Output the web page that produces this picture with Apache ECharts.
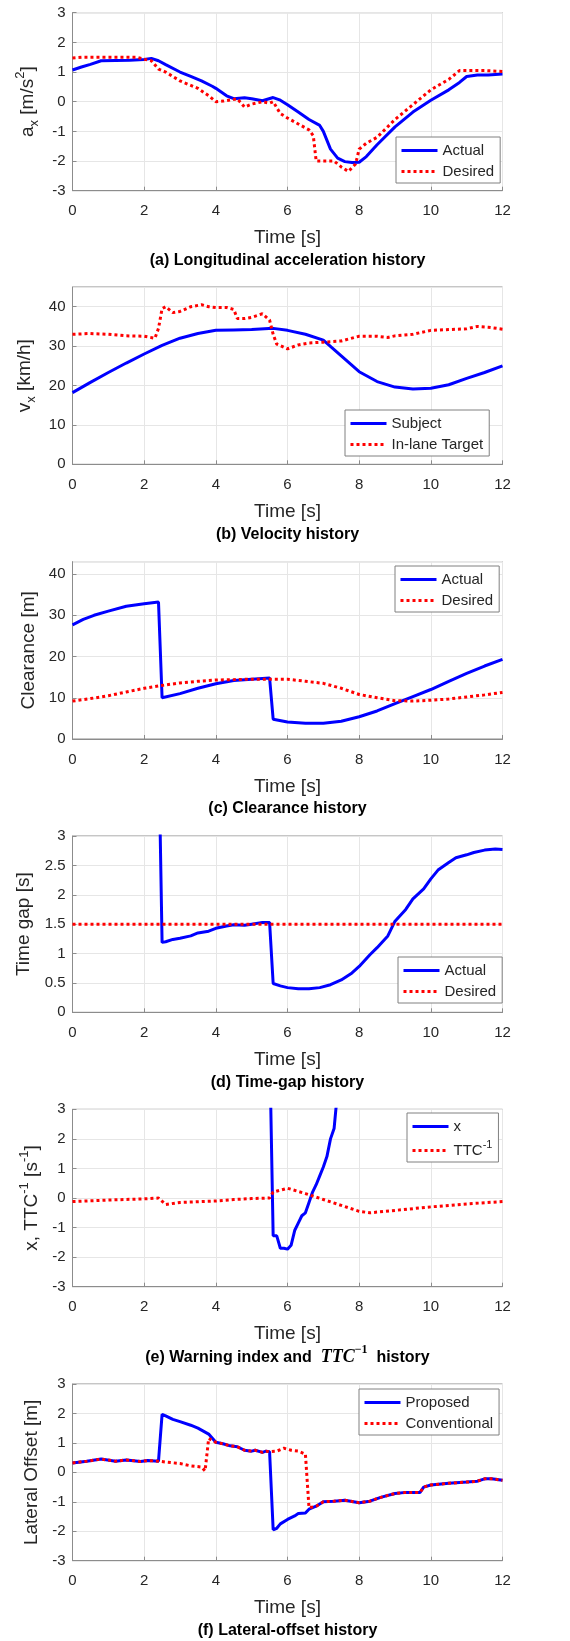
<!DOCTYPE html>
<html>
<head>
<meta charset="utf-8">
<script src="https://cdn.jsdelivr.net/npm/echarts@6/dist/echarts.min.js"></script>
<style>
  html, body { margin: 0; padding: 0; background: #fff; }
  #chart { width: 570px; height: 1641px; }
</style>
</head>
<body>
<div id="chart"></div>
<script>
// values, [time s, value]
const accelActual = [[0,1.07],[0.25,1.17],[0.5,1.26],[0.8,1.38],[1.2,1.39],[1.6,1.4],[2,1.42],[2.2,1.46],[2.4,1.38],[2.6,1.25],[3,1.0],[3.3,0.85],[3.6,0.7],[3.9,0.52],[4,0.45],[4.3,0.2],[4.5,0.1],[4.8,0.13],[5,0.1],[5.3,0.03],[5.6,0.14],[5.8,0.05],[6,-0.1],[6.3,-0.35],[6.6,-0.6],[6.9,-0.8],[7.0,-1.0],[7.2,-1.6],[7.4,-1.9],[7.6,-2.02],[7.8,-2.05],[8,-2.04],[8.2,-1.85],[8.5,-1.45],[9,-0.85],[9.5,-0.35],[10,0.05],[10.5,0.4],[10.8,0.65],[11,0.85],[11.3,0.9],[11.6,0.9],[12,0.93]];
const accelDesired = [[0,1.47],[0.3,1.5],[1.8,1.5],[2,1.43],[2.2,1.38],[2.4,1.1],[2.6,1.0],[3,0.7],[3.5,0.45],[3.8,0.2],[4,0.0],[4.2,0.02],[4.6,0.1],[4.8,-0.18],[5,-0.08],[5.3,0.0],[5.5,-0.05],[5.6,0.0],[5.8,-0.4],[6,-0.55],[6.3,-0.75],[6.6,-0.95],[6.72,-1.15],[6.8,-2.0],[7.3,-2.0],[7.5,-2.2],[7.7,-2.35],[7.9,-2.1],[8,-1.6],[8.2,-1.4],[8.5,-1.2],[9,-0.6],[9.5,-0.1],[10,0.4],[10.5,0.75],[10.8,1.05],[11.5,1.05],[12,1.02]];

const velSubject = [[0,18.2],[0.5,20.8],[1,23.3],[1.5,25.7],[2,28.0],[2.5,30.2],[3,32.0],[3.5,33.2],[4,34.0],[4.5,34.1],[5,34.2],[5.6,34.5],[6,34.0],[6.5,33.0],[7,31.5],[7.5,27.5],[8,23.5],[8.5,21.0],[9,19.6],[9.5,19.1],[10,19.3],[10.5,20.2],[11,21.8],[11.5,23.3],[12,25.0]];
const velTarget = [[0,33.0],[0.5,33.2],[1,33.0],[1.5,32.6],[2,32.5],[2.3,32.0],[2.4,34.5],[2.5,39.5],[2.6,40.0],[2.8,38.5],[3,38.8],[3.3,40.0],[3.6,40.5],[3.8,40.0],[4,39.8],[4.3,39.8],[4.5,39.3],[4.6,37.0],[4.8,37.0],[5,37.3],[5.3,38.2],[5.5,36.6],[5.6,33.0],[5.7,30.5],[6,29.3],[6.3,30.3],[6.6,30.8],[7,31.0],[7.5,31.3],[8,32.5],[8.5,32.5],[8.8,32.2],[9,32.6],[9.5,33.0],[10,34.0],[10.5,34.2],[11,34.4],[11.3,35.0],[11.6,34.8],[12,34.3]];

const clrActual = [[0,27.7],[0.3,29.0],[0.6,30.0],[1,31.0],[1.5,32.2],[2,32.8],[2.4,33.2],[2.5,10.0],[3,11.0],[3.5,12.3],[4,13.4],[4.5,14.2],[5,14.5],[5.5,14.8],[5.6,4.8],[6,4.1],[6.5,3.8],[7,3.8],[7.5,4.3],[8,5.4],[8.5,6.8],[9,8.6],[9.5,10.3],[10,12.0],[10.5,14.0],[11,15.9],[11.5,17.7],[12,19.3]];
const clrDesired = [[0,9.2],[0.5,9.8],[1,10.5],[1.5,11.4],[2,12.3],[2.5,13.0],[3,13.6],[3.5,14.0],[4,14.3],[4.5,14.4],[5,14.5],[6,14.5],[6.5,14.0],[7,13.5],[7.5,12.3],[8,10.8],[8.5,10.0],[9,9.3],[9.5,9.2],[10,9.4],[10.5,9.7],[11,10.2],[11.5,10.7],[12,11.3]];

const gapActual = [[2.44,3.3],[2.5,1.19],[2.6,1.2],[2.8,1.24],[3,1.26],[3.3,1.3],[3.5,1.35],[3.8,1.38],[4,1.43],[4.3,1.47],[4.5,1.49],[4.8,1.48],[5,1.5],[5.3,1.53],[5.5,1.53],[5.6,0.49],[5.8,0.45],[6,0.42],[6.3,0.4],[6.6,0.4],[6.9,0.42],[7.2,0.47],[7.5,0.55],[7.8,0.67],[8,0.78],[8.3,0.98],[8.5,1.1],[8.8,1.3],[9,1.55],[9.3,1.75],[9.5,1.93],[9.8,2.1],[10,2.27],[10.2,2.42],[10.5,2.55],[10.7,2.63],[11,2.68],[11.2,2.72],[11.5,2.76],[11.8,2.78],[12,2.77]];
const gapDesired = [[0,1.5],[12,1.5]];

const warnX = [[5.53,3.3],[5.6,-1.28],[5.7,-1.28],[5.8,-1.7],[5.9,-1.7],[6,-1.73],[6.1,-1.6],[6.2,-1.1],[6.3,-0.85],[6.4,-0.6],[6.5,-0.5],[6.6,-0.15],[6.7,0.2],[6.8,0.45],[6.9,0.75],[7.0,1.05],[7.1,1.4],[7.2,2.0],[7.3,2.35],[7.35,3.0],[7.4,3.5]];
const warnTTC = [[0,-0.12],[1,-0.07],[2,-0.03],[2.4,0.0],[2.6,-0.22],[3,-0.15],[4,-0.1],[4.5,-0.05],[5,-0.02],[5.5,0.0],[5.6,0.2],[6,0.33],[6.5,0.15],[7,-0.05],[7.5,-0.25],[8,-0.45],[8.3,-0.5],[9,-0.42],[10,-0.3],[11,-0.2],[12,-0.12]];

const latProposed = [[0,0.32],[0.4,0.38],[0.8,0.45],[1.2,0.38],[1.5,0.42],[1.9,0.37],[2.1,0.4],[2.4,0.38],[2.5,1.97],[2.6,1.92],[2.8,1.8],[3,1.72],[3.3,1.6],[3.5,1.5],[3.8,1.3],[4,1.02],[4.2,0.97],[4.4,0.9],[4.6,0.87],[4.8,0.75],[5.0,0.72],[5.1,0.75],[5.3,0.68],[5.4,0.72],[5.5,0.7],[5.6,-1.95],[5.7,-1.9],[5.8,-1.75],[6,-1.6],[6.2,-1.48],[6.3,-1.4],[6.5,-1.38],[6.6,-1.25],[6.8,-1.15],[7,-1.0],[7.3,-0.98],[7.6,-0.95],[8,-1.03],[8.3,-0.98],[8.6,-0.85],[9,-0.72],[9.3,-0.68],[9.7,-0.68],[9.8,-0.5],[10,-0.43],[10.5,-0.37],[11,-0.33],[11.3,-0.3],[11.5,-0.22],[11.7,-0.22],[12,-0.27]];
const latConventional = [[0,0.32],[0.4,0.38],[0.8,0.45],[1.2,0.38],[1.5,0.42],[1.9,0.37],[2.1,0.4],[2.4,0.38],[2.6,0.35],[3,0.3],[3.3,0.22],[3.6,0.18],[3.7,0.05],[3.8,1.15],[4,1.02],[4.2,0.97],[4.4,0.9],[4.6,0.87],[4.8,0.75],[5.0,0.72],[5.1,0.75],[5.3,0.68],[5.4,0.72],[5.5,0.7],[5.7,0.72],[5.9,0.82],[6.1,0.75],[6.3,0.72],[6.5,0.62],[6.6,-1.2],[6.8,-1.15],[7,-1.0],[7.3,-0.98],[7.6,-0.95],[8,-1.03],[8.3,-0.98],[8.6,-0.85],[9,-0.72],[9.3,-0.68],[9.7,-0.68],[9.8,-0.5],[10,-0.43],[10.5,-0.37],[11,-0.33],[11.3,-0.3],[11.5,-0.22],[11.7,-0.22],[12,-0.27]];

const xTicks = [0, 12, 2];

var FONT = 'Liberation Sans, Arial, sans-serif';
var TXT = '#262626';
var AX = '#8c8c8c';

// one panel per entry: grid box, y range, legend place, series
var panels = [
  {top: 12.7, h: 178, y: [-3, 3, 1], name: '{n|a}{sb|x}{n| [m/s}{sp|2}{n|]}', gap: 29.5,
   leg: [396, 137], names: ['Actual', 'Desired'], data: [accelActual, accelDesired],
   cap: '(a) Longitudinal acceleration history'},
  {top: 287, h: 177.3, y: [0, 45, 10], name: '{n|v}{sb|x}{n| [km/h]}', gap: 36.5,
   leg: [345, 410], names: ['Subject', 'In-lane Target'], data: [velSubject, velTarget],
   cap: '(b) Velocity history'},
  {top: 561.7, h: 177.3, y: [0, 43, 10], name: '{n|Clearance [m]}', gap: 26,
   leg: [395, 566], names: ['Actual', 'Desired'], data: [clrActual, clrDesired],
   cap: '(c) Clearance history'},
  {top: 836, h: 176.3, y: [0, 3, 0.5], name: '{n|Time gap [s]}', gap: 29,
   leg: [398, 957], names: ['Actual', 'Desired'], data: [gapActual, gapDesired],
   cap: '(d) Time-gap history'},
  {top: 1109.3, h: 177.4, y: [-3, 3, 1], name: '{n|x, TTC}{sp|-1}{n| [s}{sp|-1}{n|]}', gap: 21,
   leg: [407, 1113], names: ['x', 'TTC'], data: [warnX, warnTTC],
   cap: '{b|(e) Warning index and  }{it|TTC}{itsp|−1}{b|  history}'},
  {top: 1384, h: 176.7, y: [-3, 3, 1], name: '{n|Lateral Offset [m]}', gap: 24,
   leg: [359, 1389], names: ['Proposed', 'Conventional'], data: [latProposed, latConventional],
   cap: '(f) Lateral-offset history'}
];

var nameRich = {
  n: {fontSize: 19, fontFamily: FONT, color: TXT},
  sb: {fontSize: 13, fontFamily: FONT, color: TXT, verticalAlign: 'bottom', padding: [0, 0, -4, 0]},
  sp: {fontSize: 13, fontFamily: FONT, color: TXT, verticalAlign: 'top', padding: [-4, 0, 0, 0]}
};

var option = {
  animation: false,
  backgroundColor: '#fff',
  grid: [], xAxis: [], yAxis: [], series: [], legend: [], title: []
};

panels.forEach(function (p, i) {
  option.grid.push({left: 72.5, width: 430, top: p.top, height: p.h, show: true,
    borderColor: AX, borderWidth: 1, backgroundColor: 'transparent'});
  option.xAxis.push({
    type: 'value', gridIndex: i, min: xTicks[0], max: xTicks[1], interval: xTicks[2],
    name: 'Time [s]', nameLocation: 'middle', nameGap: 38,
    nameTextStyle: {fontSize: 19, fontFamily: FONT, color: TXT},
    axisLine: {show: true, onZero: false, lineStyle: {color: AX}},
    axisTick: {show: true, inside: true, length: 4, lineStyle: {color: AX}},
    axisLabel: {fontSize: 15, fontFamily: FONT, color: TXT, margin: 13},
    splitLine: {show: true, lineStyle: {color: '#e6e6e6'}}
  });
  option.yAxis.push({
    type: 'value', gridIndex: i, min: p.y[0], max: p.y[1], interval: p.y[2],
    name: p.name, nameLocation: 'middle', nameGap: p.gap,
    nameTextStyle: {rich: nameRich},
    axisLine: {show: true, onZero: false, lineStyle: {color: AX}},
    axisTick: {show: true, inside: true, length: 4, lineStyle: {color: AX}},
    axisLabel: {fontSize: 15, fontFamily: FONT, color: TXT, margin: 7, showMaxLabel: p.y[1] % p.y[2] === 0},
    splitLine: {show: true, lineStyle: {color: '#e6e6e6'}}
  });
  option.series.push({
    name: p.names[0], type: 'line', xAxisIndex: i, yAxisIndex: i, data: p.data[0],
    symbol: 'none', clip: true, lineStyle: {color: '#0000ff', width: 3}, itemStyle: {color: '#0000ff'}
  });
  option.series.push({
    name: p.names[1], type: 'line', xAxisIndex: i, yAxisIndex: i, data: p.data[1],
    symbol: 'none', clip: true, lineStyle: {color: '#ff0000', width: 3, type: [3, 3]}, itemStyle: {color: '#ff0000'}
  });
  option.legend.push({
    data: p.names, orient: 'vertical', left: p.leg[0], top: p.leg[1],
    backgroundColor: '#fff', borderColor: '#808080', borderWidth: 1,
    padding: [5, 6, 3, 4], itemGap: 4, itemWidth: 36, itemHeight: 14,
    selectedMode: false,
    itemStyle: {color: 'rgba(0,0,0,0)', borderColor: 'rgba(0,0,0,0)', borderWidth: 0, opacity: 0},
    lineStyle: {width: 3},
    formatter: function (n) { return n === 'TTC' ? '{t|TTC}{s|-1}' : '{t|' + n + '}'; },
    textStyle: {fontSize: 15, fontFamily: FONT, color: TXT, lineHeight: 17,
      rich: {t: {fontSize: 15, fontFamily: FONT, color: TXT},
             s: {fontSize: 11, fontFamily: FONT, color: TXT, verticalAlign: 'top', padding: [-3, 0, 0, 0]}}}
  });
  var capY = p.top + p.h + 62;
  option.title.push({
    text: p.cap, left: 287.5, top: capY, textAlign: 'center', padding: 0,
    textStyle: {fontSize: 16, fontWeight: 'bold', fontFamily: FONT, color: '#000',
      rich: {b: {fontSize: 16, fontWeight: 'bold', fontFamily: FONT, color: '#000'},
             it: {fontSize: 18, fontStyle: 'italic', fontFamily: 'Liberation Serif, serif', color: '#000'},
             itsp: {fontSize: 12, fontFamily: 'Liberation Serif, serif', color: '#000', verticalAlign: 'top', padding: [-5, 0, 0, 0]}}}
  });
});

var chart = echarts.init(document.getElementById('chart'));
chart.setOption(option);
</script>
</body>
</html>
